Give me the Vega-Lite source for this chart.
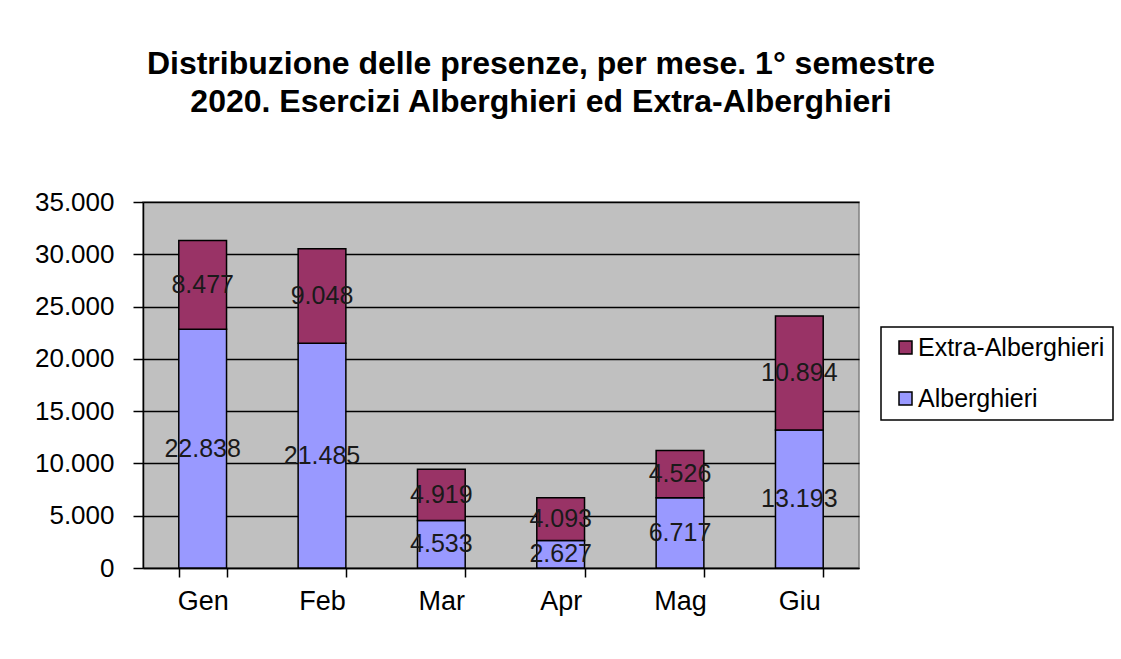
{
  "$schema": "https://vega.github.io/schema/vega-lite/v6.json",
  "autosize": {"type": "none"},
  "width": 716,
  "height": 366,
  "padding": {"left": 143, "top": 202, "right": 262, "bottom": 91},
  "background": "white",
  "config": {
    "locale": {"number": {"decimal": ",", "thousands": ".", "grouping": [3], "currency": ["€", ""]}},
    "font": "Liberation Sans",
    "view": {"fill": "#C0C0C0", "stroke": "#808080", "strokeWidth": 1.5},
    "legend": {"strokeWidth": 1.5}
  },
  "title": {
    "text": ["Distribuzione delle presenze, per mese. 1° semestre", "2020. Esercizi Alberghieri ed Extra-Alberghieri"],
    "font": "Liberation Sans",
    "fontSize": 32,
    "fontWeight": "bold",
    "color": "#000000",
    "lineHeight": 38,
    "anchor": "middle",
    "frame": "group",
    "dx": 40,
    "offset": 70
  },
  "data": {
    "values": [
      {"mese": "Gen", "serie": "Alberghieri", "valore": 22838},
      {"mese": "Gen", "serie": "Extra-Alberghieri", "valore": 8477},
      {"mese": "Feb", "serie": "Alberghieri", "valore": 21485},
      {"mese": "Feb", "serie": "Extra-Alberghieri", "valore": 9048},
      {"mese": "Mar", "serie": "Alberghieri", "valore": 4533},
      {"mese": "Mar", "serie": "Extra-Alberghieri", "valore": 4919},
      {"mese": "Apr", "serie": "Alberghieri", "valore": 2627},
      {"mese": "Apr", "serie": "Extra-Alberghieri", "valore": 4093},
      {"mese": "Mag", "serie": "Alberghieri", "valore": 6717},
      {"mese": "Mag", "serie": "Extra-Alberghieri", "valore": 4526},
      {"mese": "Giu", "serie": "Alberghieri", "valore": 13193},
      {"mese": "Giu", "serie": "Extra-Alberghieri", "valore": 10894}
    ]
  },
  "encoding": {
    "x": {
      "field": "mese",
      "type": "nominal",
      "sort": ["Gen", "Feb", "Mar", "Apr", "Mag", "Giu"],
      "scale": {"paddingInner": 0.6, "paddingOuter": 0.3},
      "axis": {
        "title": null,
        "labelAngle": 0,
        "labelFont": "Liberation Sans",
        "labelFontSize": 27,
        "labelColor": "#000000",
        "labelPadding": 11,
        "tickBand": "extent",
        "tickSize": 9,
        "tickColor": "#000000",
        "tickWidth": 1.5,
        "domainColor": "#000000",
        "domainWidth": 1.5,
        "grid": false
      }
    },
    "y": {
      "field": "valore",
      "type": "quantitative",
      "stack": "zero",
      "scale": {"domain": [0, 35000], "nice": false},
      "axis": {
        "title": null,
        "values": [0, 5000, 10000, 15000, 20000, 25000, 30000, 35000],
        "format": ",d",
        "labelFont": "Liberation Sans",
        "labelFontSize": 26,
        "labelColor": "#000000",
        "labelPadding": 19,
        "tickSize": 10,
        "tickColor": "#000000",
        "tickWidth": 1.5,
        "domainColor": "#000000",
        "domainWidth": 1.5,
        "grid": true,
        "gridColor": "#000000",
        "gridWidth": 1.5,
        "gridOpacity": 1
      }
    },
    "order": {"field": "serie", "sort": "ascending"}
  },
  "layer": [
    {
      "mark": {"type": "bar", "stroke": "#000000", "strokeWidth": 1.5},
      "encoding": {
        "color": {
          "field": "serie",
          "type": "nominal",
          "scale": {"domain": ["Extra-Alberghieri", "Alberghieri"], "range": ["#993366", "#9999FF"]},
          "legend": {
            "title": null,
            "orient": "none",
            "legendX": 738,
            "legendY": 125,
            "direction": "vertical",
            "symbolType": "square",
            "symbolSize": 169,
            "symbolStrokeColor": "#000000",
            "symbolStrokeWidth": 1.5,
            "symbolOffset": 4,
            "labelFont": "Liberation Sans",
            "labelFontSize": 25,
            "labelColor": "#000000",
            "labelOffset": 0,
            "labelLimit": 400,
            "rowPadding": 25,
            "padding": 8,
            "strokeColor": "#000000",
            "fillColor": "#FFFFFF"
          }
        }
      }
    },
    {
      "mark": {"type": "text", "font": "Liberation Sans", "fontSize": 25, "color": "#1a1a1a", "baseline": "middle", "align": "center"},
      "encoding": {
        "y": {"field": "valore", "type": "quantitative", "stack": "zero", "bandPosition": 0.5},
        "detail": {"field": "serie", "type": "nominal"},
        "text": {"field": "valore", "type": "quantitative", "format": ",d"}
      }
    }
  ]
}
